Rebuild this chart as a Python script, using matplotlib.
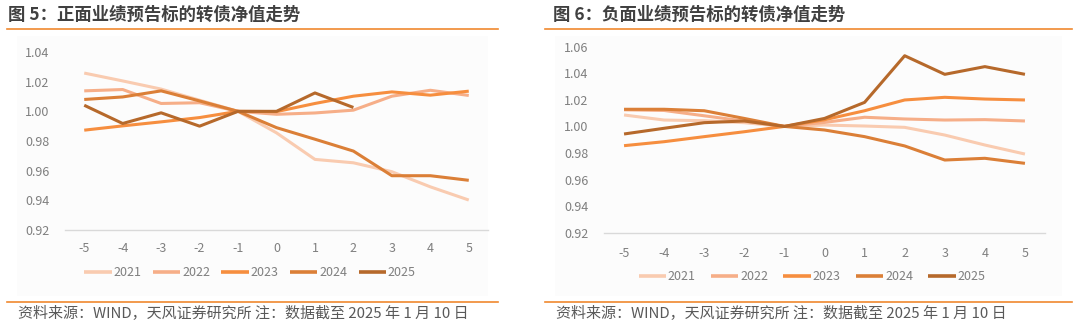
import matplotlib
matplotlib.use("Agg")
import matplotlib.pyplot as plt
from matplotlib.lines import Line2D
from matplotlib.patches import Rectangle

plt.rcParams['font.family'] = ['Noto Sans CJK SC', 'DejaVu Sans']

# ---------------- data ----------------
x_labels = ['-5', '-4', '-3', '-2', '-1', '0', '1', '2', '3', '4', '5']
years = ['2021', '2022', '2023', '2024', '2025']

pos_2021 = [1.0258, 1.0205, 1.0150, 1.0075, 1.000, 0.9855, 0.9676, 0.9653, 0.9593, 0.9491, 0.9402]
pos_2022 = [1.0138, 1.0147, 1.0053, 1.0058, 1.000, 0.9980, 0.9989, 1.0008, 1.0102, 1.0142, 1.0107]
pos_2023 = [0.9873, 0.9902, 0.9929, 0.9958, 1.000, 0.9998, 1.0053, 1.0102, 1.0131, 1.0109, 1.0136]
pos_2024 = [1.0080, 1.0097, 1.0138, 1.0070, 1.000, 0.9890, 0.9812, 0.9732, 0.9566, 0.9566, 0.9535]
pos_2025 = [1.0041, 0.9918, 0.9990, 0.9900, 1.000, 1.0000, 1.0124, 1.0026, None, None, None]

neg_2021 = [1.0086, 1.0048, 1.0043, 1.0028, 1.000, 1.0010, 1.0003, 0.9993, 0.9935, 0.9860, 0.9792]
neg_2022 = [1.0125, 1.0120, 1.0080, 1.0040, 1.000, 1.0030, 1.0069, 1.0056, 1.0048, 1.0051, 1.0041]
neg_2023 = [0.9855, 0.9885, 0.9923, 0.9960, 1.000, 1.0050, 1.0118, 1.0199, 1.0219, 1.0206, 1.0199]
neg_2024 = [1.0129, 1.0129, 1.0118, 1.0060, 1.000, 0.9973, 0.9923, 0.9853, 0.9747, 0.9760, 0.9722]
neg_2025 = [0.9943, 0.9986, 1.0028, 1.0041, 1.000, 1.0060, 1.0181, 1.0532, 1.0392, 1.0450, 1.0392]

pos_yticks = [0.92, 0.94, 0.96, 0.98, 1.00, 1.02, 1.04]
neg_yticks = [0.92, 0.94, 0.96, 0.98, 1.00, 1.02, 1.04, 1.06]

title_left = '图 5：正面业绩预告标的转债净值走势'
title_right = '图 6：负面业绩预告标的转债净值走势'
source_text = '资料来源：WIND，天风证券研究所 注：数据截至 2025 年 1 月 10 日'

colors = ['#F9CBB0', '#F6AE88', '#F68E3F', '#DB7F37', '#B6692B']

W, H = 1080, 330
fig = plt.figure(figsize=(W / 100, H / 100), dpi=100)
fig.patch.set_facecolor('white')


def fx(px):
    return px / W


def fy(py):
    return 1 - py / H


def panel(x0, x1, title, tx, ax_box, series, yticks, legend_xy, tick_pad, colsp):
    # faint background
    fig.patches.append(Rectangle((fx(x0 + 10), fy(296)), fx(x1 - x0 - 20), fy(36) - fy(296),
                                 transform=fig.transFigure, facecolor='#FCFCFC',
                                 edgecolor='none', zorder=-5))
    fig.text(fx(tx), fy(15), title, fontsize=12.5, fontweight='bold', color='#404040',
             ha='left', va='center')
    fig.add_artist(Line2D([fx(x0), fx(x1)], [fy(29), fy(29)], color='#F0892F', lw=1.2,
                          transform=fig.transFigure))
    fig.add_artist(Line2D([fx(x0), fx(x1)], [fy(302), fy(302)], color='#F0892F', lw=1.2,
                          transform=fig.transFigure))
    fig.text(fx(x0 + 11), fy(314), source_text, fontsize=10.8, color='#595959',
             ha='left', va='center')

    l, t, r, b = ax_box
    ax = fig.add_axes([fx(l), fy(b), fx(r - l), fy(t) - fy(b)])
    ax.set_zorder(2)
    ax.set_facecolor('none')
    xs = list(range(len(x_labels)))
    handles = []
    for vals, c, lab in zip(series, colors, years):
        px = [x for x, v in zip(xs, vals) if v is not None]
        pv = [v for v in vals if v is not None]
        h, = ax.plot(px, pv, color=c, lw=2.2, label=lab, solid_capstyle='butt')
        handles.append(h)
    ax.set_xlim(-0.5, len(x_labels) - 0.5)
    ax.set_ylim(yticks[0], yticks[-1])
    ax.set_xticks(xs)
    ax.set_xticklabels(x_labels)
    ax.set_yticks(yticks)
    ax.set_yticklabels([f'{v:.2f}' for v in yticks])
    for s in ['top', 'right', 'left']:
        ax.spines[s].set_visible(False)
    ax.spines['bottom'].set_color('#D9D9D9')
    ax.spines['bottom'].set_linewidth(1.0)
    ax.tick_params(axis='both', length=0, labelsize=9, labelcolor='#7F7F7F')
    ax.tick_params(axis='x', pad=tick_pad)
    ax.tick_params(axis='y', pad=11)
    leg = fig.legend(handles=handles, loc='center',
                     bbox_to_anchor=(fx(legend_xy[0]), fy(legend_xy[1])),
                     ncol=5, frameon=False, fontsize=9, handlelength=2.2,
                     handletextpad=0.15, columnspacing=colsp)
    for txt in leg.get_texts():
        txt.set_color('#7F7F7F')
    for ln in leg.get_lines():
        ln.set_linewidth(2.6)
    return ax


panel(7, 498, title_left, 8, (65, 52, 488, 230),
      [pos_2021, pos_2022, pos_2023, pos_2024, pos_2025], pos_yticks, (250, 273), 9, 0.9)
panel(545, 1072, title_right, 553, (604, 46.7, 1045, 232.7),
      [neg_2021, neg_2022, neg_2023, neg_2024, neg_2025], neg_yticks, (812, 277), 10, 1.2)

fig.savefig('out.png', dpi=100, facecolor='white')
